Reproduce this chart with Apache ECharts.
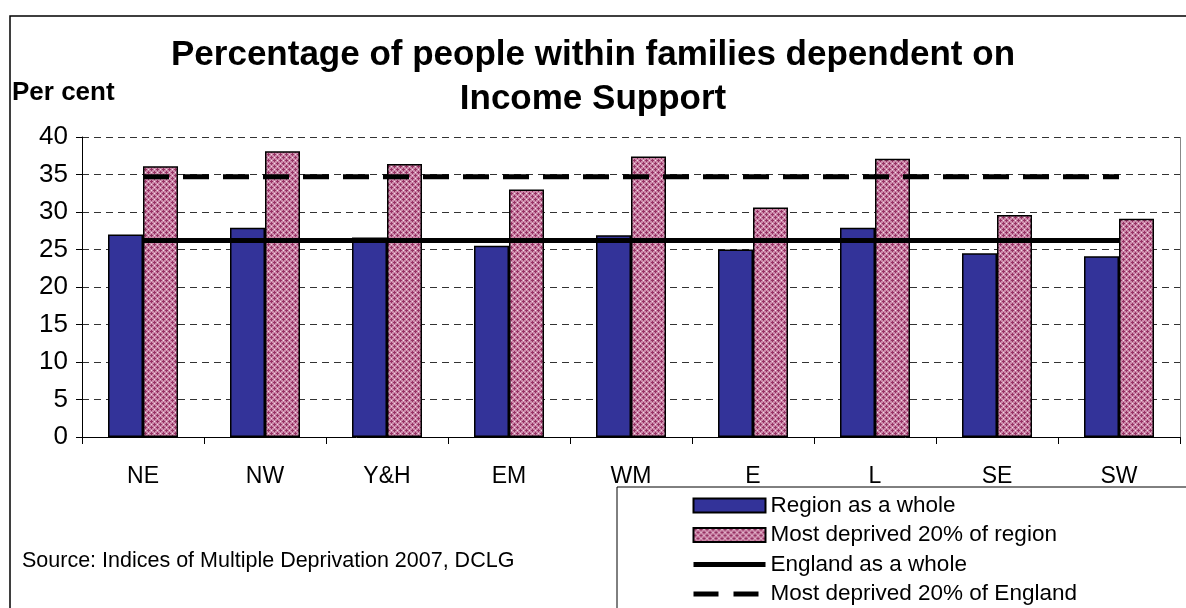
<!DOCTYPE html>
<html>
<head>
<meta charset="utf-8">
<script src="https://cdn.jsdelivr.net/npm/echarts@6/dist/echarts.min.js"></script>
<style>
html,body{margin:0;padding:0;background:#fff;}
#chart{width:1186px;height:608px;}
</style>
</head>
<body>
<div id="chart"></div>
<script>
const categories = ['NE','NW','Y&H','EM','WM','E','L','SE','SW'];
const regionWhole = [27.0, 27.9, 26.6, 25.5, 26.9, 25.0, 27.9, 24.5, 24.1];
const mostDeprivedRegion = [36.1, 38.1, 36.4, 33.0, 37.4, 30.6, 37.1, 29.6, 29.1];
const englandWhole = [26.2, 26.2, 26.2, 26.2, 26.2, 26.2, 26.2, 26.2, 26.2];
const mostDeprivedEngland = [34.7, 34.7, 34.7, 34.7, 34.7, 34.7, 34.7, 34.7, 34.7];
const yTicks = [0, 5, 10, 15, 20, 25, 30, 35, 40];

function makePattern(){
  const c = document.createElement('canvas');
  c.width = 6; c.height = 6;
  const ctx = c.getContext('2d');
  ctx.fillStyle = '#cc88a9';
  ctx.fillRect(0,0,6,6);
  ctx.fillStyle = '#963264';
  const pts = [[1,0],[0,1],[1,1],[2,1],[1,2],[4,3],[3,4],[4,4],[5,4],[4,5]];
  pts.forEach(p=>ctx.fillRect(p[0],p[1],1,1));
  ctx.fillStyle = '#f2dde8';
  [[4,1],[1,4]].forEach(p=>ctx.fillRect(p[0],p[1],1,1));
  return c;
}

const chart = echarts.init(document.getElementById('chart'), null, {renderer:'canvas'});
const font = 'Liberation Sans, Arial, sans-serif';
const pinkFill = {image: makePattern(), repeat: 'repeat'};

chart.setOption({
  animation: false,
  backgroundColor: '#fff',
  textStyle: {fontFamily: font, color: '#000'},
  title: {
    text: 'Percentage of people within families dependent on\nIncome Support',
    left: 'center',
    top: 28,
    textStyle: {fontFamily: font, fontWeight: 'bold', fontSize: 35, lineHeight: 44, color: '#000'}
  },
  grid: {left: 82, right: 6, top: 137, bottom: 171, containLabel: false},
  xAxis: {
    type: 'category',
    data: categories,
    boundaryGap: true,
    axisLine: {lineStyle: {color: '#000', width: 1}},
    axisTick: {show: true, length: 7, lineStyle: {color: '#000'}},
    axisLabel: {fontFamily: font, fontSize: 23, color: '#000', margin: 28}
  },
  yAxis: {
    type: 'value',
    min: 0, max: 40, interval: 5,
    axisLine: {show: true, lineStyle: {color: '#000', width: 1}},
    axisTick: {show: true, length: 6, lineStyle: {color: '#000'}},
    axisLabel: {fontFamily: font, fontSize: 26, color: '#000', margin: 14,
      formatter: v => yTicks.includes(v) ? String(v) : ''},
    splitLine: {show: true, lineStyle: {color: '#333', type: [7, 5], width: 1}}
  },
  legend: {
    left: 691,
    top: 494,
    orient: 'vertical',
    itemWidth: 72,
    itemHeight: 14,
    itemGap: 6.5,
    padding: 0,
    textStyle: {fontFamily: font, fontSize: 22.5, color: '#000', lineHeight: 23},
    data: [
      {name: 'Region as a whole', icon: 'rect'},
      {name: 'Most deprived 20% of region', icon: 'rect'},
      {name: 'England as a whole', itemStyle: {opacity: 0}, lineStyle: {width: 5, color: '#000', type: 'solid'}},
      {name: 'Most deprived 20% of England', itemStyle: {opacity: 0}, lineStyle: {width: 5, color: '#000', type: [25, 15], cap: 'butt'}}
    ]
  },
  graphic: [
    {type: 'rect', shape: {x: 10, y: 16, width: 1300, height: 700}, style: {fill: 'none', stroke: '#000', lineWidth: 1.5}, silent: true, z: -10},
    {type: 'line', shape: {x1: 1180.5, y1: 137, x2: 1180.5, y2: 437}, style: {stroke: '#888', lineWidth: 1}, silent: true},
    {type: 'rect', shape: {x: 617, y: 487, width: 700, height: 200}, style: {fill: '#fff', stroke: '#000', lineWidth: 1}, silent: true, z: -1},
    {type: 'text', left: 12, top: 80, style: {text: 'Per cent', fontFamily: font, fontWeight: 'bold', fontSize: 26, fill: '#000'}},
    {type: 'text', left: 22, top: 550, style: {text: 'Source: Indices of Multiple Deprivation 2007, DCLG', fontFamily: font, fontSize: 21.5, fill: '#000'}}
  ],
  series: [
    {
      name: 'Region as a whole', type: 'bar', data: regionWhole,
      barWidth: 35, barGap: '0%',
      itemStyle: {color: '#333399', borderColor: '#000', borderWidth: 1.5}
    },
    {
      name: 'Most deprived 20% of region', type: 'bar', data: mostDeprivedRegion,
      barWidth: 35, barGap: '0%',
      itemStyle: {color: pinkFill, borderColor: '#000', borderWidth: 1.5}
    },
    {
      name: 'England as a whole', type: 'line', data: englandWhole,
      symbol: 'none', z: 5,
      lineStyle: {color: '#000', width: 5, type: 'solid'},
      itemStyle: {color: '#000'}
    },
    {
      name: 'Most deprived 20% of England', type: 'line', data: mostDeprivedEngland,
      symbol: 'none', z: 5,
      lineStyle: {color: '#000', width: 5, type: [26, 14], cap: 'butt'},
      itemStyle: {color: '#000'}
    }
  ]
});
</script>
</body>
</html>
